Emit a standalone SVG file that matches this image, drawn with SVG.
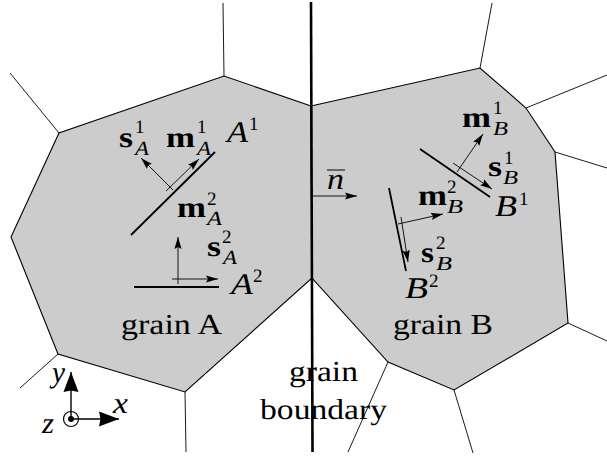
<svg xmlns="http://www.w3.org/2000/svg" width="607" height="459" viewBox="0 0 607 459">
<style>
.g{fill:#ccc;stroke:#000;stroke-width:1.1}
.e{fill:none;stroke:#000;stroke-width:.9}
.p{fill:none;stroke:#000;stroke-width:1.8}
.a{fill:none;stroke:#000;stroke-width:.9;marker-end:url(#h)}
.x{fill:none;stroke:#000;stroke-width:1.4;marker-end:url(#H)}
text{font-family:"Liberation Serif","Times New Roman",serif;fill:#000;text-rendering:geometricPrecision}
.t{font-size:29px}
.b{font-size:29px;font-weight:bold}
.i{font-size:30px;font-style:italic}
.s{font-size:19px}
.u{font-size:20px;font-style:italic}
</style>
<defs>
<marker id="h" markerWidth="14" markerHeight="10" refX="12" refY="4" orient="auto" markerUnits="userSpaceOnUse"><path d="M0,0.4L12,4L0,7.6L2,4Z" fill="#000"/></marker>
<marker id="H" markerWidth="24" markerHeight="18" refX="20" refY="8" orient="auto" markerUnits="userSpaceOnUse"><path d="M0,0.5L20,8L0,15.5L1.5,8Z" fill="#000"/></marker>
</defs>
<g id="grain-a"><polygon class="g" points="311,106 224,76 59,133 11,237 58,354 185,392 312,278"/><text class="t" x="121" y="334" textLength="101" lengthAdjust="spacingAndGlyphs">grain A</text></g>
<g id="grain-b"><polygon class="g" points="311,106 480,68 526,108 555,152 568,323 454,390 388,362 312,278"/><text class="t" x="393" y="334" textLength="100" lengthAdjust="spacingAndGlyphs">grain B</text></g>
<g id="connectors">
<path class="e" d="M224,76L223,3M59,133L10,73M58,354L20,388M185,392L186,452M388,362L348,452M454,390L473,453M568,323L607,341M555,152L607,168M526,108L607,75M480,68L492,3"/>
<path d="M311,2L312.5,452" fill="none" stroke="#000" stroke-width="2.6"/>
<path class="p" d="M131,235L215,152M134,287H219M420,149L490,197M389,188L406,271"/>
<path class="a" d="M173,190L141,158"/>
<path class="a" d="M166,191L199,159"/>
<path class="a" d="M178,284V237"/>
<path class="a" d="M172,279H218"/>
<path class="a" d="M457,172L483,134"/>
<path class="a" d="M453,163L492,189"/>
<path class="a" d="M398,224L443,214"/>
<path class="a" d="M401,217L408,262"/>
<path class="a" d="M312,196H357"/>
<path class="x" d="M71,419V372"/>
<path class="x" d="M71,419H119"/>
<circle cx="71" cy="419" r="7.5" fill="none" stroke="#000" stroke-width="1.2"/><circle cx="71" cy="419" r="3" fill="#000"/>
</g>
<g id="labels">
<text class="b" x="119" y="147" textLength="14" lengthAdjust="spacingAndGlyphs">s</text><text class="s" x="135" y="133">1</text><text class="u" x="135" y="155" textLength="14" lengthAdjust="spacingAndGlyphs">A</text>
<text class="b" x="166" y="147" textLength="29" lengthAdjust="spacingAndGlyphs">m</text><text class="s" x="197" y="133">1</text><text class="u" x="197" y="155" textLength="14" lengthAdjust="spacingAndGlyphs">A</text>
<text class="i" x="227" y="142" textLength="21" lengthAdjust="spacingAndGlyphs">A</text><text class="s" x="249" y="130">1</text>
<text class="b" x="177" y="217" textLength="29" lengthAdjust="spacingAndGlyphs">m</text><text class="s" x="207" y="205">2</text><text class="u" x="207" y="225" textLength="15" lengthAdjust="spacingAndGlyphs">A</text>
<text class="b" x="207" y="256" textLength="14" lengthAdjust="spacingAndGlyphs">s</text><text class="s" x="222" y="243">2</text><text class="u" x="223" y="264" textLength="14" lengthAdjust="spacingAndGlyphs">A</text>
<text class="i" x="231" y="294" textLength="22" lengthAdjust="spacingAndGlyphs">A</text><text class="s" x="253" y="282">2</text>
<text class="i" x="327" y="189" textLength="17" lengthAdjust="spacingAndGlyphs">n</text><path d="M327,170H345" stroke="#000" stroke-width="1" fill="none"/>
<text class="b" x="462" y="127" textLength="29" lengthAdjust="spacingAndGlyphs">m</text><text class="s" x="493" y="114">1</text><text class="u" x="493" y="135" textLength="15" lengthAdjust="spacingAndGlyphs">B</text>
<text class="b" x="488" y="176" textLength="14" lengthAdjust="spacingAndGlyphs">s</text><text class="s" x="504" y="164">1</text><text class="u" x="503" y="184" textLength="15" lengthAdjust="spacingAndGlyphs">B</text>
<text class="i" x="495" y="216" textLength="22" lengthAdjust="spacingAndGlyphs">B</text><text class="s" x="519" y="205">1</text>
<text class="b" x="418" y="205" textLength="29" lengthAdjust="spacingAndGlyphs">m</text><text class="s" x="447" y="193">2</text><text class="u" x="447" y="213" textLength="16" lengthAdjust="spacingAndGlyphs">B</text>
<text class="b" x="421" y="262" textLength="13" lengthAdjust="spacingAndGlyphs">s</text><text class="s" x="436" y="249">2</text><text class="u" x="436" y="270" textLength="16" lengthAdjust="spacingAndGlyphs">B</text>
<text class="i" x="405" y="298" textLength="23" lengthAdjust="spacingAndGlyphs">B</text><text class="s" x="429" y="287">2</text>
<text class="t" x="289" y="381" textLength="69" lengthAdjust="spacingAndGlyphs">grain</text>
<text class="t" x="260" y="419" textLength="127" lengthAdjust="spacingAndGlyphs">boundary</text>
<text class="i" x="52" y="382" textLength="13" lengthAdjust="spacingAndGlyphs">y</text>
<text class="i" x="113" y="413" textLength="15" lengthAdjust="spacingAndGlyphs">x</text>
<text class="i" x="42" y="433" textLength="12" lengthAdjust="spacingAndGlyphs">z</text>
</g>
</svg>
